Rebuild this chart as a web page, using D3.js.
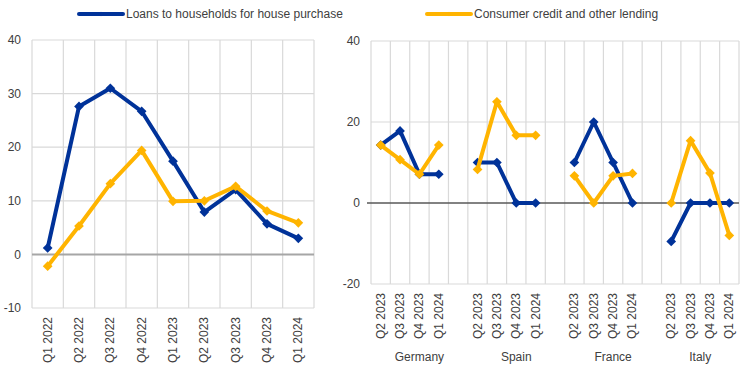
<!DOCTYPE html>
<html>
<head>
<meta charset="utf-8">
<script src="https://cdn.jsdelivr.net/npm/d3@7"></script>
<style>
  body { margin: 0; background: #fff; }
  text { font-family: "Liberation Sans", Arial, sans-serif; }
</style>
</head>
<body>
<div id="chart"></div>
<script>
// series names
const seriesNames = ["Loans to households for house purchase", "Consumer credit and other lending"];
const seriesColors = ["#003299", "#ffb400"];

// left panel: euro area
const leftQuarters = ["Q1 2022", "Q2 2022", "Q3 2022", "Q4 2022", "Q1 2023", "Q2 2023", "Q3 2023", "Q4 2023", "Q1 2024"];
const leftHouse = [1.2, 27.6, 31.0, 26.7, 17.4, 7.9, 12.1, 5.7, 3.0];
const leftConsumer = [-2.2, 5.3, 13.2, 19.4, 9.9, 10.0, 12.7, 8.1, 5.9];
const leftTicks = [-10, 0, 10, 20, 30, 40];

// right panel: countries
const countries = ["Germany", "Spain", "France", "Italy"];
const rightQuarters = ["Q2 2023", "Q3 2023", "Q4 2023", "Q1 2024"];
const houseByCountry = [
  [14.3, 17.8, 7.1, 7.1],
  [10.0, 10.0, 0, 0],
  [10.0, 20.0, 10.0, 0],
  [-9.5, 0, 0, 0]
];
const consumerByCountry = [
  [14.3, 10.7, 7.1, 14.3],
  [8.3, 25.0, 16.7, 16.7],
  [6.7, 0, 6.7, 7.3],
  [0, 15.4, 7.4, -8.0]
];
const rightTicks = [-20, 0, 20, 40];

const width = 744, height = 384;
const textColor = "#404040";
const gridColor = "#d9d9d9";

const svg = d3.select("#chart").append("svg")
  .attr("width", width)
  .attr("height", height);

const diamond = d3.symbol().type(d3.symbolDiamond2).size(60);

// legend
const legendX = [79, 427];
seriesNames.forEach((name, i) => {
  const g = svg.append("g").attr("transform", `translate(${legendX[i]},14)`);
  g.append("line")
    .attr("x1", 0).attr("x2", 44)
    .attr("stroke", seriesColors[i])
    .attr("stroke-width", 4)
    .attr("stroke-linecap", "round");
  g.append("path")
    .attr("d", d3.symbol().type(d3.symbolDiamond2).size(14)())
    .attr("transform", "translate(22,0)")
    .attr("fill", seriesColors[i]);
  g.append("text")
    .attr("x", 47).attr("dy", "0.35em")
    .attr("font-size", 12)
    .attr("fill", textColor)
    .text(name);
});

function drawPanel(opts) {
  const x = d3.scaleBand().domain(opts.domain).range([opts.x0, opts.x1]).padding(0);
  const y = d3.scaleLinear().domain(opts.yDomain).range([opts.y0, opts.y1]);
  const g = svg.append("g");

  // gridlines
  g.selectAll(".hgrid").data(opts.ticks.filter(t => t !== 0)).enter().append("line")
    .attr("x1", opts.x0).attr("x2", opts.x1)
    .attr("y1", d => y(d)).attr("y2", d => y(d))
    .attr("stroke", gridColor).attr("stroke-width", 1.2);
  const bounds = opts.domain.map(d => x(d)).concat([opts.x1]);
  g.selectAll(".vgrid").data(bounds).enter().append("line")
    .attr("x1", d => d).attr("x2", d => d)
    .attr("y1", opts.y1).attr("y2", opts.y0)
    .attr("stroke", gridColor).attr("stroke-width", 1.2);

  // zero line
  g.append("line")
    .attr("x1", opts.zeroX0).attr("x2", opts.x1)
    .attr("y1", y(0)).attr("y2", y(0))
    .attr("stroke", opts.zeroColor).attr("stroke-width", opts.zeroWidth);

  // y tick labels
  g.selectAll(".ytick").data(opts.ticks).enter().append("text")
    .attr("x", opts.x0 - 11)
    .attr("y", d => y(d))
    .attr("dy", "0.35em")
    .attr("text-anchor", "end")
    .attr("font-size", 12)
    .attr("fill", textColor)
    .text(d => d);

  // x labels (rotated)
  g.selectAll(".xlab").data(opts.domain.filter(d => opts.labelOf(d))).enter().append("text")
    .attr("transform", d => `translate(${x(d) + x.bandwidth() / 2 + 4},${opts.y0 + 9}) rotate(-90)`)
    .attr("text-anchor", "end")
    .attr("font-size", 12)
    .attr("fill", textColor)
    .text(d => opts.labelOf(d));

  const line = d3.line()
    .x(d => x(d.key) + x.bandwidth() / 2)
    .y(d => y(d.value));

  // series: lines first then markers
  opts.series.forEach((segments, si) => {
    segments.forEach(seg => {
      g.append("path")
        .datum(seg)
        .attr("d", line)
        .attr("fill", "none")
        .attr("stroke", seriesColors[si])
        .attr("stroke-width", 4)
        .attr("stroke-linejoin", "round");
      g.selectAll(null).data(seg).enter().append("path")
        .attr("d", diamond())
        .attr("transform", d => `translate(${x(d.key) + x.bandwidth() / 2},${y(d.value)})`)
        .attr("fill", seriesColors[si]);
    });
  });
  return x;
}

// left panel
drawPanel({
  domain: leftQuarters,
  x0: 32, x1: 314,
  yDomain: [-10, 40], y0: 308, y1: 40,
  ticks: leftTicks,
  zeroColor: "#a6a6a6", zeroWidth: 2, zeroX0: 32,
  labelOf: d => d,
  series: [
    [leftQuarters.map((q, i) => ({ key: q, value: leftHouse[i] }))],
    [leftQuarters.map((q, i) => ({ key: q, value: leftConsumer[i] }))]
  ]
});

// right panel: categories with blank separators between countries
const rightDomain = [];
countries.forEach((c, ci) => {
  rightQuarters.forEach(q => rightDomain.push(c + "|" + q));
  if (ci < countries.length - 1) rightDomain.push(c + "|gap");
});

const xr = drawPanel({
  domain: rightDomain,
  x0: 371, x1: 739,
  yDomain: [-20, 40], y0: 284, y1: 41,
  ticks: rightTicks,
  zeroColor: "#595959", zeroWidth: 1.5, zeroX0: 367,
  labelOf: d => d.endsWith("|gap") ? null : d.split("|")[1],
  series: [
    countries.map((c, ci) => rightQuarters.map((q, qi) => ({ key: c + "|" + q, value: houseByCountry[ci][qi] }))),
    countries.map((c, ci) => rightQuarters.map((q, qi) => ({ key: c + "|" + q, value: consumerByCountry[ci][qi] })))
  ]
});

// country group labels
svg.selectAll(".country").data(countries).enter().append("text")
  .attr("x", (c, ci) => {
    const keys = rightDomain.filter(k => k.startsWith(c + "|"));
    return (xr(keys[0]) + xr(keys[keys.length - 1]) + xr.bandwidth()) / 2;
  })
  .attr("y", 361)
  .attr("text-anchor", "middle")
  .attr("font-size", 12)
  .attr("fill", textColor)
  .text(d => d);
</script>
</body>
</html>
